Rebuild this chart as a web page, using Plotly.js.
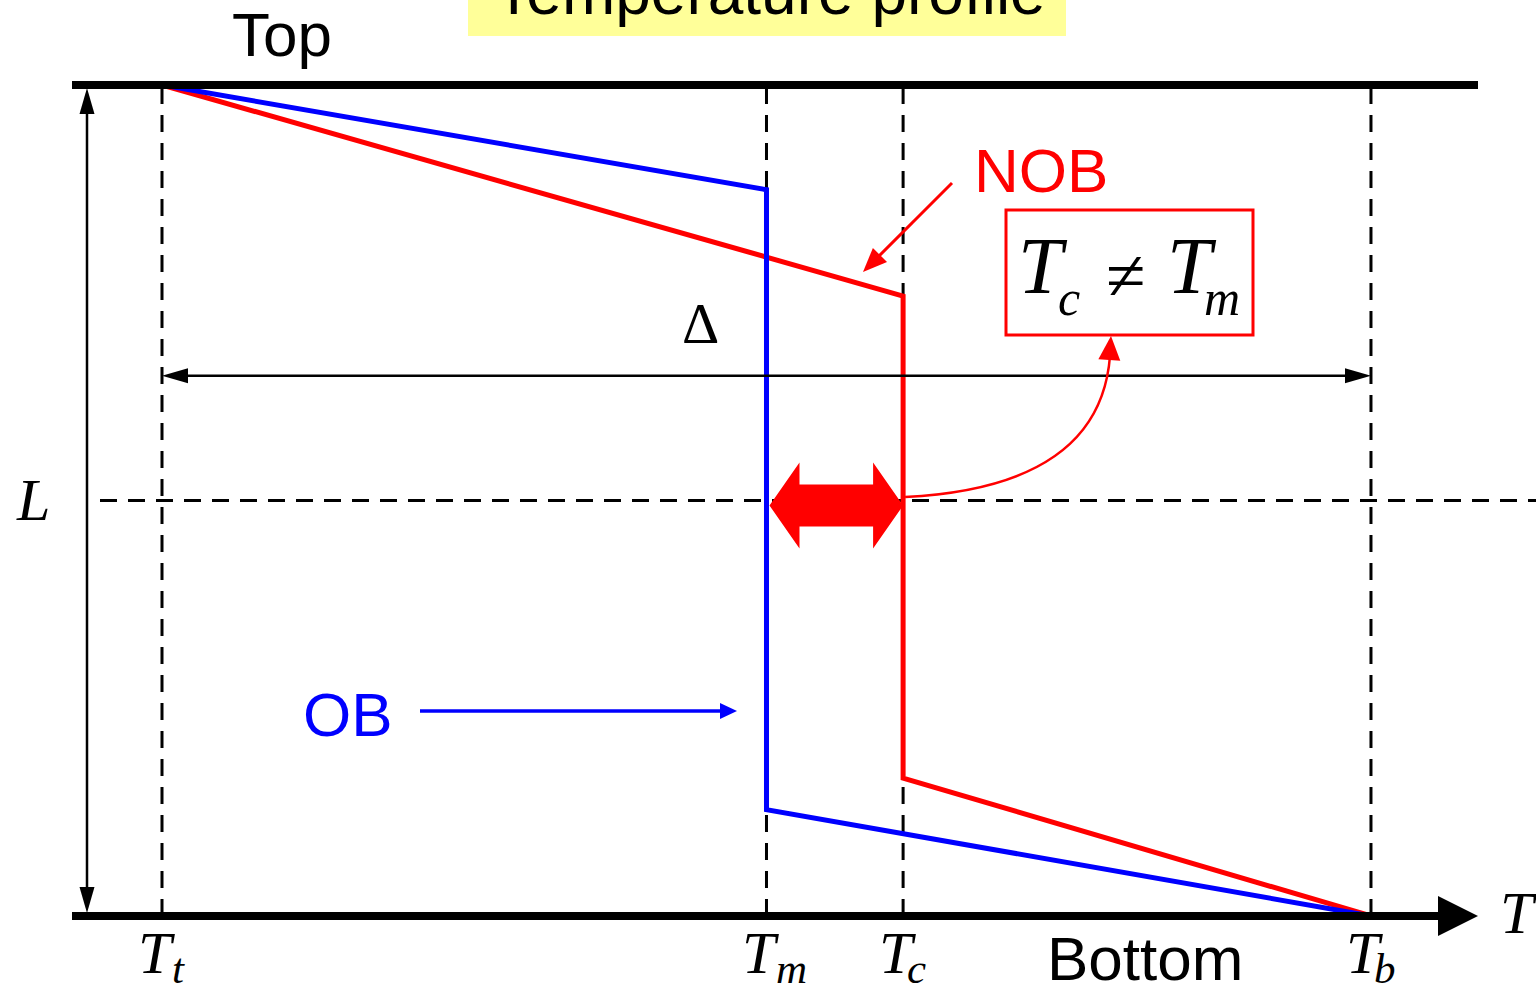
<!DOCTYPE html>
<html>
<head>
<meta charset="utf-8">
<script src="https://cdn.plot.ly/plotly-3.0.1.min.js"></script>
<style>
  html, body { margin: 0; padding: 0; background: #fff; overflow: hidden; }
  #chart { width: 1536px; height: 992px; }
</style>
</head>
<body>
<div id="chart"></div>
<script>
// Characteristic temperatures (normalised: top plate T_t = 0, bottom plate T_b = 1)
const levelLetters = ['T', 'T', 'T', 'T'];
const levelSubs = ['t', 'm', 'c', 'b'];
const levelValues = [0, 0.5, 0.613, 1];

// Oberbeck–Boussinesq profile: temperature vs. height (height in units of L)
const obTemp = [0, 0.5, 0.5, 1];
const obHeight = [1, 0.874, 0.128, 0];

// Non-Oberbeck–Boussinesq profile
const nobTemp = [0, 0.613, 0.613, 1];
const nobHeight = [1, 0.746, 0.166, 0];

// ---- canvas / scale set-up ----
const W = 1536, H = 992;
const xRange = [-0.134, 1.1365];
const yRange = [-0.0915, 1.1023];
const ux = (xRange[1] - xRange[0]) / W;   // data units per pixel, horizontal
const uy = (yRange[1] - yRange[0]) / H;   // data units per pixel, vertical
const dx = p => p * ux;
const dy = p => p * uy;
// place decorations by canvas pixel position
const X = p => xRange[0] + p * ux;
const Z = p => yRange[1] - p * uy;

const SANS = '"Liberation Sans", Arial, sans-serif';
const SERIF = '"Liberation Serif", "Times New Roman", serif';
const RED = '#ff0000', BLUE = '#0000ff', BLACK = '#000000';

const Tt = levelValues[0], Tm = levelValues[1], Tc = levelValues[2], Tb = levelValues[3];
const mid = 0.5;

// solid triangular arrow head; ang = pointing direction in degrees (0 = right, 90 = up)
function head(x, y, ang, len, half, color) {
  const c = Math.cos(ang * Math.PI / 180), s = Math.sin(ang * Math.PI / 180);
  const bx = -c * len, by = -s * len;
  const p1 = [bx - s * half, by + c * half];
  const p2 = [bx + s * half, by - c * half];
  return {
    type: 'path', xref: 'x', yref: 'y', layer: 'above',
    path: `M${x},${y} L${x + dx(p1[0])},${y + dy(p1[1])} L${x + dx(p2[0])},${y + dy(p2[1])} Z`,
    fillcolor: color, line: { width: 0 }
  };
}
function seg(x0, y0, x1, y1, color, width, extra) {
  return Object.assign({
    type: 'line', xref: 'x', yref: 'y', x0, y0, x1, y1,
    line: { color, width }, layer: 'above'
  }, extra || {});
}

const shapes = [];

// title highlight
shapes.push({
  type: 'rect', xref: 'x', yref: 'y', layer: 'below',
  x0: X(468), x1: X(1066), y0: Z(36), y1: Z(-10),
  fillcolor: '#ffff99', line: { width: 0 }
});

// dashed guide lines at each characteristic temperature
const dashed = { color: BLACK, width: 3, dash: '17px,11px' };
levelValues.forEach(v => {
  shapes.push(seg(v, 0, v, 1, BLACK, 3, { layer: 'below', line: dashed }));
});
// dashed mid-plane
shapes.push(seg(X(100), mid, X(1536), mid, BLACK, 3, { layer: 'below', line: dashed }));

// plates
shapes.push(seg(X(72), 1, X(1478), 1, BLACK, 8));
shapes.push(seg(X(72), 0, X(1445), 0, BLACK, 8));
shapes.push(head(X(1478), 0, 0, 40, 20, BLACK));

// height arrow L
const xL = X(87);
shapes.push(seg(xL, dy(20), xL, 1 - dy(20), BLACK, 2.5));
shapes.push(head(xL, 1 - dy(3), 90, 26, 7.5, BLACK));
shapes.push(head(xL, dy(3), -90, 26, 7.5, BLACK));

// temperature difference arrow Δ
const yDelta = 0.65;
shapes.push(seg(Tt + dx(20), yDelta, Tb - dx(20), yDelta, BLACK, 2.5));
shapes.push(head(Tt, yDelta, 180, 26, 7.5, BLACK));
shapes.push(head(Tb, yDelta, 0, 26, 7.5, BLACK));

// OB arrow
shapes.push(seg(X(420), Z(711), X(724), Z(711), BLUE, 3.5));
shapes.push(head(X(737), Z(711), 0, 17, 8, BLUE));

// NOB arrow
shapes.push(seg(X(952), Z(183), X(870), Z(265), RED, 3));
shapes.push(head(X(863), Z(272), 225, 24, 10, RED));

// box around T_c ≠ T_m
shapes.push({
  type: 'rect', xref: 'x', yref: 'y', layer: 'above',
  x0: X(1006), x1: X(1253), y0: Z(335), y1: Z(210),
  fillcolor: 'rgba(0,0,0,0)', line: { color: RED, width: 3 }
});

// curved pointer from the centre temperature to the box
shapes.push({
  type: 'path', xref: 'x', yref: 'y', layer: 'above',
  path: `M${Tc + dx(2)},${Z(497)} Q${X(1100)},${Z(487)} ${X(1110)},${Z(356)}`,
  fillcolor: 'rgba(0,0,0,0)', line: { color: RED, width: 2.5 }
});
shapes.push(head(X(1111), Z(336), 86, 24, 11, RED));

// thick double arrow between T_m and T_c at mid-height
(function () {
  const yc = mid - dy(5);
  const xl = Tm + dx(3), xr = Tc;
  const hl = dx(30), sh = dy(21), hh = dy(43);
  const pts = [
    [xl, yc], [xl + hl, yc + hh], [xl + hl, yc + sh], [xr - hl, yc + sh], [xr - hl, yc + hh],
    [xr, yc], [xr - hl, yc - hh], [xr - hl, yc - sh], [xl + hl, yc - sh], [xl + hl, yc - hh]
  ];
  shapes.push({
    type: 'path', xref: 'x', yref: 'y', layer: 'above',
    path: 'M' + pts.map(p => p[0] + ',' + p[1]).join(' L') + ' Z',
    fillcolor: RED, line: { width: 0 }
  });
})();

// ---- text ----
function txt(text, x, y, family, size, color, extra) {
  return Object.assign({
    text, x, y, xref: 'x', yref: 'y', showarrow: false,
    xanchor: 'center', yanchor: 'middle',
    font: { family, size, color }
  }, extra || {});
}

const annotations = [
  txt('Top', X(282), Z(34), SANS, 62, BLACK),
  txt('Bottom', X(1145), Z(958), SANS, 62, BLACK),
  txt('NOB', X(1041), Z(170), SANS, 62, RED),
  txt('OB', X(348), Z(714), SANS, 62, BLUE),
  txt('\u0394', X(700), Z(323), SERIF, 58, BLACK),
  txt('<i>L</i>', X(33), Z(500), SERIF, 60, BLACK),
  txt('<i>T</i>', X(1518), Z(913), SERIF, 60, BLACK),
  // T_c ≠ T_m
  txt('<i>T</i>', X(1043), Z(266), SERIF, 80, BLACK),
  txt('<i>c</i>', X(1056), Z(298), SERIF, 50, BLACK, { xanchor: 'left' }),
  txt('\u2260', X(1126), Z(276), SERIF, 72, BLACK),
  txt('<i>T</i>', X(1192), Z(266), SERIF, 80, BLACK),
  txt('<i>m</i>', X(1202), Z(298), SERIF, 50, BLACK, { xanchor: 'left' })
];

// labels of the characteristic temperatures under the axis
const subOffset = [8, 8, 2, 1];
levelValues.forEach((v, i) => {
  annotations.push(txt('<i>' + levelLetters[i] + '</i>', v, 0, SERIF, 60, BLACK, { xshift: -6, yshift: -37 }));
  annotations.push(txt('<i>' + levelSubs[i] + '</i>', v, 0, SERIF, 43, BLACK, { xanchor: 'left', xshift: subOffset[i], yshift: -53 }));
});

const traces = [
  { x: nobTemp, y: nobHeight, name: 'NOB', type: 'scatter', mode: 'lines',
    line: { color: RED, width: 5 }, hoverinfo: 'skip' },
  { x: obTemp, y: obHeight, name: 'OB', type: 'scatter', mode: 'lines',
    line: { color: BLUE, width: 5 }, hoverinfo: 'skip' }
];

const layout = {
  width: W, height: H,
  margin: { l: 0, r: 0, t: 0, b: 0, pad: 0 },
  paper_bgcolor: '#ffffff', plot_bgcolor: '#ffffff',
  showlegend: false, hovermode: false,
  title: {
    text: 'Temperature profile',
    font: { family: SANS, size: 64, color: BLACK },
    x: 770 / W, xanchor: 'center', xref: 'container',
    y: 1 - 14 / H, yanchor: 'bottom', yref: 'container'
  },
  xaxis: { range: xRange, visible: false, fixedrange: true },
  yaxis: { range: yRange, visible: false, fixedrange: true },
  shapes, annotations
};

Plotly.newPlot('chart', traces, layout, { staticPlot: true, displayModeBar: false });
</script>
</body>
</html>
